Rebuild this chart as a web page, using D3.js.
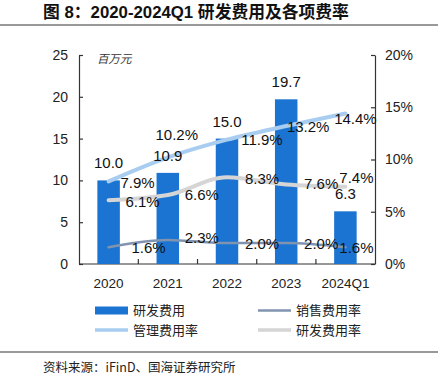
<!DOCTYPE html>
<html>
<head>
<meta charset="utf-8">
<script src="https://cdn.jsdelivr.net/npm/d3@7"></script>
<style>
  html, body { margin: 0; padding: 0; background: #fff; }
  svg { display: block; font-family: "Liberation Sans", Arial, sans-serif; }
</style>
</head>
<body>
<div id="chart"></div>
<script>
// ── data ──
const categories = ['2020', '2021', '2022', '2023', '2024Q1'];
const rdExpense  = [10.0, 10.9, 15.0, 19.7, 6.3];   // 百万元
const mgmtRate   = [7.9, 10.2, 11.9, 13.2, 14.4];   // %
const rdRate     = [6.1, 6.6, 8.3, 7.6, 7.4];       // %
const salesRate  = [1.6, 2.3, 2.0, 2.0, 1.6];       // %
const leftTicks  = [0, 5, 10, 15, 20, 25];
const rightTicks = [0, 5, 10, 15, 20];

const COLORS = { bar: '#1b74d1', mgmt: '#a8cdf0', rd: '#d5d5d5', sales: '#8094b0', axis: '#333' };
const CJK = '"Noto Sans CJK SC", sans-serif';

// label nudges per series (dx from point, dy from point), mimicking the hand-placed labels
const nudge = {
  mgmt:  [[29, 1], [9, -23], [35, 0], [22, 1], [10, 5]],
  rd:    [[34, 1], [34, 0], [35, 1], [35, -1], [11, -9]],
  sales: [[40, 0], [34, -2], [35, 0], [35, 0], [11, 0]]
};

const W = 438, H = 382;
const M = { left: 79, right: 375, top: 55, bottom: 264 };

const svg = d3.select('#chart').append('svg').attr('width', W).attr('height', H);

// title + rules
svg.append('text').attr('x', 43).attr('y', 18)
  .attr('font-family', '"Liberation Sans", ' + CJK).attr('font-size', 16.8).attr('font-weight', 700)
  .attr('fill', '#111').text('图 8：2020-2024Q1 研发费用及各项费率');
svg.append('line').attr('x1', 0).attr('x2', W).attr('y1', 25).attr('y2', 25)
  .attr('stroke', '#777').attr('stroke-width', 1.5);
svg.append('line').attr('x1', 0).attr('x2', W).attr('y1', 352).attr('y2', 352)
  .attr('stroke', '#777').attr('stroke-width', 1.5);
svg.append('text').attr('x', 43).attr('y', 372)
  .attr('font-family', CJK).attr('font-size', 12.5).attr('fill', '#222')
  .text('资料来源：iFinD、国海证券研究所');

// scales
const x = d3.scaleBand().domain(categories).range([M.left, M.right]).paddingInner(0.62).paddingOuter(0.31);
const xc = d => x(d) + x.bandwidth() / 2;
const yL = d3.scaleLinear().domain([0, 25]).range([M.bottom, M.top]);
const yR = d3.scaleLinear().domain([0, 20]).range([M.bottom, M.top]);

// axes
const axL = svg.append('g').attr('transform', `translate(${M.left},0)`)
  .call(d3.axisLeft(yL).tickValues(leftTicks).tickSizeInner(-4).tickSizeOuter(0).tickPadding(11));
const axR = svg.append('g').attr('transform', `translate(${M.right},0)`)
  .call(d3.axisRight(yR).tickValues(rightTicks).tickSizeInner(-4).tickSizeOuter(0).tickPadding(10).tickFormat(d => d + '%'));
[axL, axR].forEach(a => {
  a.select('.domain').attr('stroke', COLORS.axis).attr('stroke-width', 1.2);
  a.selectAll('.tick line').attr('stroke', COLORS.axis).attr('stroke-width', 1.2);
  a.selectAll('.tick text').attr('font-family', '"Liberation Sans", Arial, sans-serif')
    .attr('font-size', 14).attr('fill', '#222');
});

// x axis: baseline, boundary ticks, labels
svg.append('line').attr('x1', M.left).attr('x2', M.right).attr('y1', M.bottom).attr('y2', M.bottom)
  .attr('stroke', COLORS.axis).attr('stroke-width', 1.2);
svg.append('g').selectAll('line').data(categories.slice(1)).join('line')
  .attr('x1', d => x(d) - x.bandwidth() * 0.81).attr('x2', d => x(d) - x.bandwidth() * 0.81)
  .attr('y1', M.bottom).attr('y2', M.bottom - 5)
  .attr('stroke', COLORS.axis).attr('stroke-width', 1.2);
svg.append('g').selectAll('text').data(categories).join('text')
  .attr('x', d => xc(d)).attr('y', 288).attr('text-anchor', 'middle')
  .attr('font-size', 13.5).attr('fill', '#222').text(d => d);

// unit
svg.append('text').attr('x', 97).attr('y', 63).attr('font-family', CJK)
  .attr('font-size', 11.5).attr('fill', '#333').attr('font-style', 'italic').text('百万元');

// bars
svg.append('g').selectAll('rect').data(rdExpense).join('rect')
  .attr('x', (d, i) => x(categories[i])).attr('width', x.bandwidth())
  .attr('y', d => yL(d)).attr('height', d => M.bottom - yL(d))
  .attr('fill', COLORS.bar);

// lines
const series = [
  { key: 'rd', vals: rdRate, color: COLORS.rd, w: 4 },
  { key: 'mgmt', vals: mgmtRate, color: COLORS.mgmt, w: 4 },
  { key: 'sales', vals: salesRate, color: COLORS.sales, w: 2.5 }
];
const line = d3.line().x((d, i) => xc(categories[i])).y(d => yR(d)).curve(d3.curveMonotoneX);
series.forEach(s => {
  svg.append('path').datum(s.vals).attr('d', line)
    .attr('fill', 'none').attr('stroke', s.color).attr('stroke-width', s.w).attr('stroke-linecap', 'round');
});

// bar labels
svg.append('g').selectAll('text').data(rdExpense).join('text')
  .attr('x', (d, i) => xc(categories[i])).attr('y', d => yL(d) - 12)
  .attr('text-anchor', 'middle').attr('font-size', 15).attr('fill', '#111')
  .text(d => d.toFixed(1));

// rate labels
series.forEach(s => {
  svg.append('g').selectAll('text').data(s.vals).join('text')
    .attr('x', (d, i) => xc(categories[i]) + nudge[s.key][i][0])
    .attr('y', (d, i) => yR(d) + nudge[s.key][i][1])
    .attr('dy', '0.36em').attr('text-anchor', 'middle')
    .attr('font-size', 15).attr('fill', '#111')
    .text(d => d.toFixed(1) + '%');
});

// legend
const lg = svg.append('g').attr('font-family', CJK).attr('font-size', 13).attr('fill', '#222');
const legendItems = [
  { label: '研发费用', type: 'rect', color: COLORS.bar, x: 95, y: 310.5 },
  { label: '销售费用率', type: 'line', color: COLORS.sales, x: 258, y: 310.5, w: 2.5 },
  { label: '管理费用率', type: 'line', color: COLORS.mgmt, x: 95, y: 330, w: 3.5 },
  { label: '研发费用率', type: 'line', color: COLORS.rd, x: 258, y: 330, w: 3.5 }
];
legendItems.forEach(it => {
  if (it.type === 'rect') {
    lg.append('rect').attr('x', it.x).attr('y', it.y - 4).attr('width', 33).attr('height', 8).attr('fill', it.color);
  } else {
    lg.append('line').attr('x1', it.x).attr('x2', it.x + 33).attr('y1', it.y).attr('y2', it.y)
      .attr('stroke', it.color).attr('stroke-width', it.w);
  }
  lg.append('text').attr('x', it.x + 38).attr('y', it.y).attr('dy', '0.36em').text(it.label);
});
</script>
</body>
</html>
